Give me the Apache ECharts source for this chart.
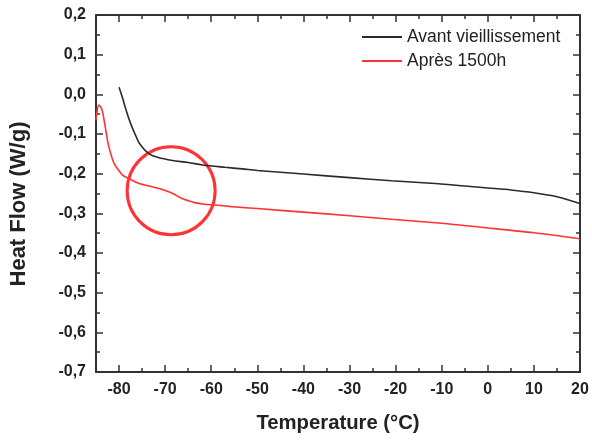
<!DOCTYPE html>
<html>
<head>
<meta charset="utf-8">
<script src="https://cdn.jsdelivr.net/npm/echarts@6/dist/echarts.min.js"></script>
<style>
html,body{margin:0;padding:0;background:#fff;}
#chart{width:592px;height:443px;}
</style>
</head>
<body>
<div id="chart"></div>
<script>
// Data
const seriesNames = ['Avant vieillissement', 'Après 1500h'];
const avantX = [-80, -79.3, -78.7, -78, -77.2, -76.5, -75.8, -74.9, -74, -72.7, -70.5, -68.4, -65, -61.9, -57, -53.3, -50, -40, -30, -20.9, -12.3, -5, 0, 5, 10, 15, 20];
const avantY = [0.018, -0.007, -0.031, -0.057, -0.082, -0.101, -0.119, -0.134, -0.145, -0.155, -0.162, -0.167, -0.172, -0.178, -0.184, -0.188, -0.192, -0.201, -0.210, -0.218, -0.224, -0.231, -0.236, -0.241, -0.248, -0.258, -0.275];
const apresX = [-85, -84.8, -84.4, -83.7, -83, -82.3, -81.5, -80.9, -80.1, -79.1, -77.9, -75.8, -73.5, -71.5, -69.4, -68, -66.5, -65, -63.6, -61.5, -59.3, -55.6, -53.5, -50, -40, -30, -20.9, -10, -1.5, 10, 20];
const apresY = [-0.065, -0.045, -0.027, -0.039, -0.082, -0.128, -0.161, -0.178, -0.191, -0.205, -0.212, -0.224, -0.231, -0.237, -0.245, -0.252, -0.262, -0.268, -0.273, -0.277, -0.279, -0.283, -0.285, -0.288, -0.297, -0.306, -0.315, -0.325, -0.335, -0.349, -0.364];
const circleCenter = [-68.7, -0.243];
const xMajorTicks = [-80, -70, -60, -50, -40, -30, -20, -10, 0, 10, 20];
const xTitle = 'Temperature (°C)';
const yTitle = 'Heat Flow (W/g)';

const zip = (xs, ys) => xs.map((x, i) => [x, ys[i]]);
const axisColor = '#333';
const font = 'Liberation Sans, Arial, sans-serif';
const fmtY = v => (Math.abs(v) < 1e-9 ? 0 : v).toFixed(1).replace('.', ',');

const chart = echarts.init(document.getElementById('chart'), null, {renderer: 'canvas'});
const baseX = {type: 'value', min: -85, max: 20, splitLine: {show: false}};
chart.setOption({
  animation: false,
  backgroundColor: '#fff',
  grid: {left: 94, top: 15, right: 12, bottom: 71, containLabel: false},
  legend: {
    orient: 'vertical', left: 357, top: 23, itemWidth: 40, itemHeight: 2, itemGap: 6,
    icon: 'rect',
    textStyle: {fontFamily: font, fontSize: 17.5, color: '#222'},
    data: seriesNames
  },
  xAxis: [
    Object.assign({}, baseX, {
      position: 'bottom',
      name: xTitle, nameLocation: 'middle', nameGap: 41,
      nameTextStyle: {fontFamily: font, fontWeight: 'bold', fontSize: 20.3, color: '#222'},
      axisLine: {show: true, onZero: false, lineStyle: {color: axisColor, width: 2}},
      axisTick: {show: true, inside: true, length: 7, lineStyle: {color: axisColor, width: 1.5}, customValues: xMajorTicks},
      axisLabel: {show: true, margin: 10, fontFamily: font, fontWeight: 'bold', fontSize: 16, color: '#222', customValues: xMajorTicks}
    }),
    Object.assign({}, baseX, {
      position: 'bottom', interval: 5,
      axisLine: {show: false, onZero: false},
      axisTick: {show: true, inside: true, length: 4, lineStyle: {color: axisColor, width: 1.5}},
      axisLabel: {show: false}
    }),
    Object.assign({}, baseX, {
      position: 'top',
      axisLine: {show: true, onZero: false, lineStyle: {color: axisColor, width: 2}},
      axisTick: {show: true, inside: true, length: 7, lineStyle: {color: axisColor, width: 1.5}, customValues: xMajorTicks},
      axisLabel: {show: false}
    }),
    Object.assign({}, baseX, {
      position: 'top', interval: 5,
      axisLine: {show: false, onZero: false},
      axisTick: {show: true, inside: true, length: 4, lineStyle: {color: axisColor, width: 1.5}},
      axisLabel: {show: false}
    })
  ],
  yAxis: [
    {
      type: 'value', position: 'left', min: -0.7, max: 0.2, interval: 0.1,
      name: yTitle, nameLocation: 'middle', nameGap: 66,
      nameTextStyle: {fontFamily: font, fontWeight: 'bold', fontSize: 22, color: '#222', padding: [0, 21, 0, 0]},
      splitLine: {show: false},
      axisLine: {show: true, onZero: false, lineStyle: {color: axisColor, width: 2}},
      axisTick: {show: true, inside: true, length: 7, lineStyle: {color: axisColor, width: 1.5}},
      minorTick: {show: true, splitNumber: 2, length: 4, lineStyle: {color: axisColor, width: 1.5}},
      axisLabel: {margin: 10, fontFamily: font, fontWeight: 'bold', fontSize: 16, color: '#222', formatter: fmtY}
    },
    {
      type: 'value', position: 'right', min: -0.7, max: 0.2, interval: 0.1,
      splitLine: {show: false},
      axisLine: {show: true, onZero: false, lineStyle: {color: axisColor, width: 2}},
      axisTick: {show: true, inside: true, length: 7, lineStyle: {color: axisColor, width: 1.5}},
      minorTick: {show: true, splitNumber: 2, length: 4, lineStyle: {color: axisColor, width: 1.5}},
      axisLabel: {show: false}
    }
  ],
  series: [
    {
      name: seriesNames[0], type: 'line', xAxisIndex: 0, yAxisIndex: 0,
      data: zip(avantX, avantY), smooth: 0.3, symbol: 'none',
      lineStyle: {color: '#2a2a2a', width: 1.6}, itemStyle: {color: '#2a2a2a'}
    },
    {
      name: seriesNames[1], type: 'line', xAxisIndex: 0, yAxisIndex: 0,
      data: zip(apresX, apresY), smooth: 0.3, symbol: 'none',
      lineStyle: {color: '#ff3333', width: 1.6}, itemStyle: {color: '#ff3333'}
    },
    {
      name: 'circle', type: 'scatter', xAxisIndex: 0, yAxisIndex: 0,
      data: [circleCenter], symbol: 'circle', symbolSize: 88, silent: true,
      itemStyle: {color: 'rgba(0,0,0,0)', borderColor: '#f00', borderWidth: 3}
    }
  ]
});
</script>
</body>
</html>
